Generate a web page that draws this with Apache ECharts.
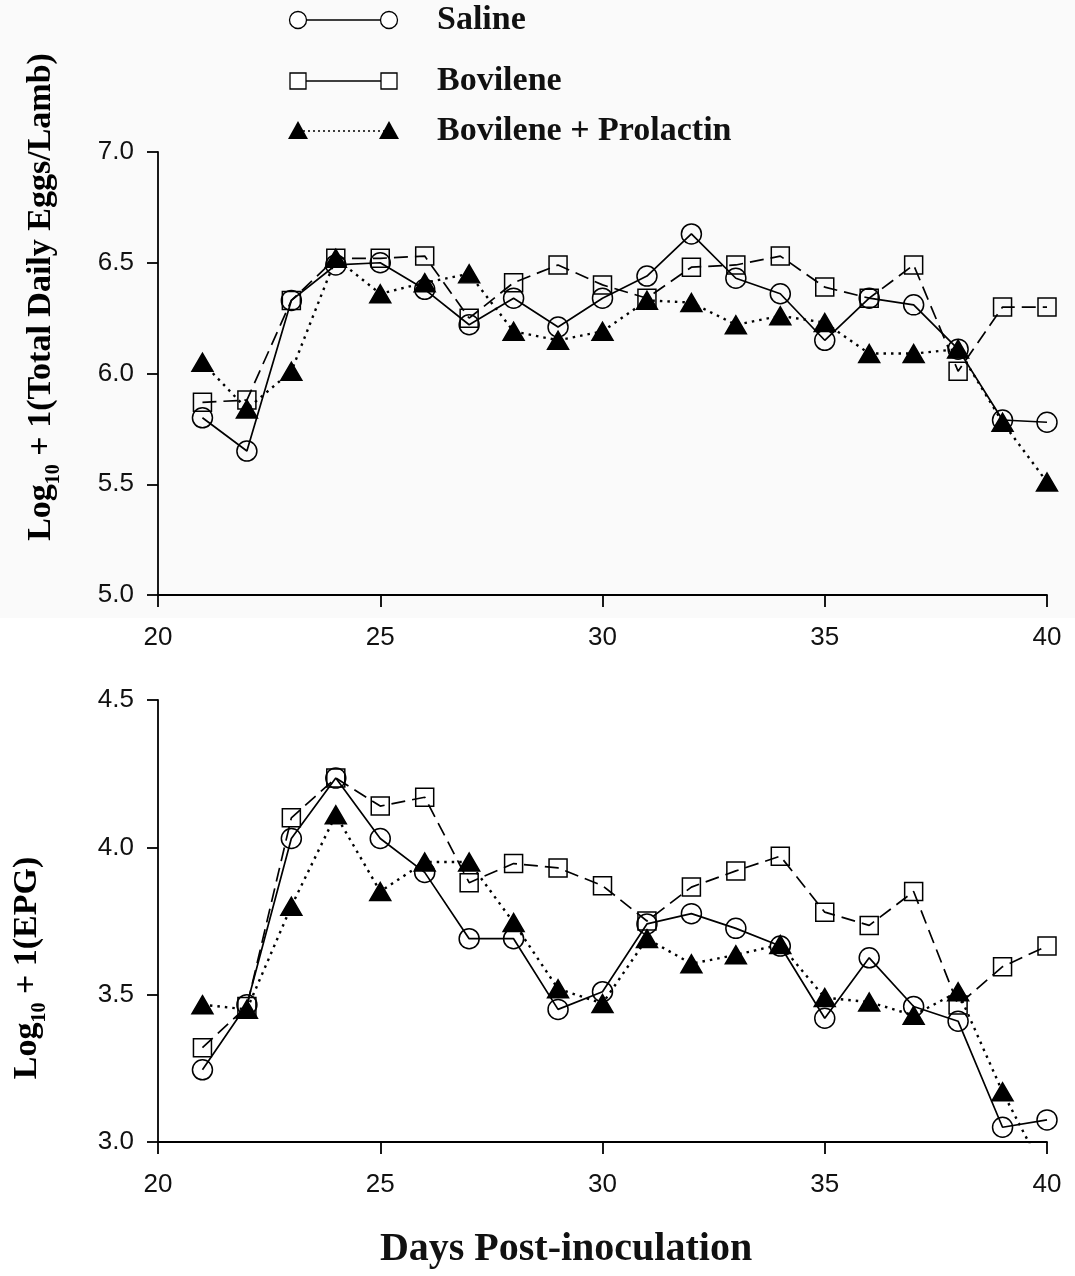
<!DOCTYPE html>
<html>
<head>
<meta charset="utf-8">
<script src="https://cdn.jsdelivr.net/npm/echarts@6/dist/echarts.min.js"></script>
<style>
  html, body {margin: 0; padding: 0; background: #fff;}
  #chart {width: 1075px; height: 1276px;}
</style>
</head>
<body>
<div id="chart"></div>
<script>
// days post-inoculation
const days = [21, 22, 23, 24, 25, 26, 27, 28, 29, 30, 31, 32, 33, 34, 35, 36, 37, 38, 39, 40];

// top panel: log10 + 1 (total daily eggs / lamb)
const salineTotal = [5.80, 5.65, 6.33, 6.49, 6.50, 6.38, 6.22, 6.34, 6.21, 6.34, 6.44, 6.63, 6.43, 6.36, 6.15, 6.34, 6.31, 6.11, 5.79, 5.78];
const bovileneTotal = [5.87, 5.88, 6.33, 6.52, 6.52, 6.53, 6.25, 6.41, 6.49, 6.40, 6.34, 6.48, 6.49, 6.53, 6.39, 6.34, 6.49, 6.01, 6.30, 6.30];
const prolactinTotal = [6.05, 5.84, 6.01, 6.52, 6.36, 6.41, 6.45, 6.19, 6.15, 6.19, 6.33, 6.32, 6.22, 6.26, 6.23, 6.09, 6.09, 6.11, 5.78, 5.51];

// bottom panel: log10 + 1 (EPG)
const salineEpg = [3.245, 3.466, 4.03, 4.235, 4.03, 3.915, 3.69, 3.69, 3.45, 3.51, 3.74, 3.775, 3.725, 3.665, 3.42, 3.625, 3.46, 3.41, 3.05, 3.075];
const bovileneEpg = [3.32, 3.46, 4.10, 4.235, 4.14, 4.17, 3.88, 3.945, 3.93, 3.87, 3.75, 3.865, 3.92, 3.97, 3.78, 3.735, 3.85, 3.465, 3.595, 3.665];
const prolactinEpg = [3.466, 3.45, 3.80, 4.11, 3.85, 3.95, 3.95, 3.745, 3.52, 3.47, 3.69, 3.605, 3.635, 3.67, 3.49, 3.475, 3.43, 3.51, 3.17, 2.88];

// axis ranges / tick labels
const xTicks = [20, 25, 30, 35, 40];
const totalTicks = [5.0, 5.5, 6.0, 6.5, 7.0];
const epgTicks = [3.0, 3.5, 4.0, 4.5];

const legendNames = ['Saline', 'Bovilene', 'Bovilene + Prolactin'];

const SERIF = '"Liberation Serif", "Times New Roman", serif';
const SANS = '"Liberation Sans", Arial, sans-serif';

const chart = echarts.init(document.getElementById('chart'), null, {renderer: 'canvas'});

const pair = (vals) => vals.map((v, i) => [days[i], v]);

const styles = [
  {symbol: 'circle', size: 20, fill: 'rgba(0,0,0,0)', line: 'solid', width: 1.7},
  {symbol: 'rect', size: 18, fill: 'rgba(0,0,0,0)', line: [14, 7], width: 1.7},
  {symbol: 'triangle', size: [21, 18], fill: '#000', line: [2.5, 5], width: 2.4}
];

function makeSeries(idx, vals, panel) {
  const s = styles[idx];
  return {
    name: legendNames[idx],
    type: 'line',
    xAxisIndex: panel,
    yAxisIndex: panel,
    data: pair(vals),
    symbol: s.symbol,
    symbolSize: s.size,
    showAllSymbol: true,
    clip: true,
    itemStyle: {color: s.fill, borderColor: '#000', borderWidth: 1.5},
    lineStyle: {color: '#000', width: s.width, type: s.line, cap: 'butt'},
    emphasis: {disabled: true},
    z: 3 - idx
  };
}

function xAxis(gridIndex) {
  return {
    type: 'value', gridIndex,
    min: xTicks[0], max: xTicks[xTicks.length - 1], interval: 5,
    axisLine: {lineStyle: {color: '#000', width: 1.8}},
    axisTick: {length: 12, lineStyle: {color: '#000', width: 1.8}},
    axisLabel: {color: '#111', fontFamily: SANS, fontSize: 26, margin: 30},
    splitLine: {show: false}
  };
}

function yAxis(gridIndex, ticks) {
  return {
    type: 'value', gridIndex,
    min: ticks[0], max: ticks[ticks.length - 1], interval: 0.5,
    axisLine: {show: true, lineStyle: {color: '#000', width: 1.8}},
    axisTick: {show: true, length: 11, lineStyle: {color: '#000', width: 1.8}},
    axisLabel: {color: '#111', fontFamily: SANS, fontSize: 26, margin: 24,
      formatter: (v) => v.toFixed(1)},
    splitLine: {show: false}
  };
}

// legend drawn as "symbol — symbol   label"
const legendRows = [20, 81, 131];
const legendGraphic = [];
legendRows.forEach((y, i) => {
  const lineDash = i === 2 ? [2, 3] : null;
  legendGraphic.push({type: 'line', shape: {x1: 298, y1: y, x2: 389, y2: y},
    style: {stroke: '#000', lineWidth: i === 2 ? 1.6 : 1.5, lineDash}});
  [298, 389].forEach((cx) => {
    if (i === 0) {
      legendGraphic.push({type: 'circle', shape: {cx, cy: y, r: 8.5},
        style: {fill: '#fff', stroke: '#000', lineWidth: 1.3}});
    } else if (i === 1) {
      legendGraphic.push({type: 'rect', shape: {x: cx - 8, y: y - 8, width: 16, height: 16},
        style: {fill: '#fff', stroke: '#000', lineWidth: 1.3}});
    } else {
      legendGraphic.push({type: 'polygon', shape: {points: [[cx, y - 10], [cx + 10, y + 8], [cx - 10, y + 8]]},
        style: {fill: '#000'}});
    }
  });
  legendGraphic.push({type: 'text', x: 437, y: y,
    style: {text: legendNames[i], font: 'bold 34px ' + SERIF, fill: '#111',
      textAlign: 'left', textVerticalAlign: 'middle'}});
});

const titleRich = {
  n: {fontFamily: SERIF, fontWeight: 'bold', fontSize: 34, lineHeight: 46, verticalAlign: 'middle', color: '#111'},
  s: {fontFamily: SERIF, fontWeight: 'bold', fontSize: 20, lineHeight: 20, verticalAlign: 'bottom', color: '#111'}
};

chart.setOption({
  animation: false,
  backgroundColor: '#fff',
  grid: [
    {left: 158, right: 28, top: 152, height: 443},
    {left: 158, right: 28, top: 700, height: 442}
  ],
  xAxis: [xAxis(0), xAxis(1)],
  yAxis: [yAxis(0, totalTicks), yAxis(1, epgTicks)],
  series: [
    makeSeries(0, salineTotal, 0),
    makeSeries(1, bovileneTotal, 0),
    makeSeries(2, prolactinTotal, 0),
    makeSeries(0, salineEpg, 1),
    makeSeries(1, bovileneEpg, 1),
    makeSeries(2, prolactinEpg, 1)
  ],
  graphic: [
    {type: 'rect', z: -10, silent: true, shape: {x: 0, y: 0, width: 1075, height: 618}, style: {fill: '#fafafa'}},
    ...legendGraphic,
    {type: 'text', x: 41, y: 297, rotation: Math.PI / 2,
      style: {text: '{n|Log}{s|10}{n| + 1(Total Daily Eggs/Lamb)}', rich: titleRich,
        textAlign: 'center', textVerticalAlign: 'middle'}},
    {type: 'text', x: 27, y: 968, rotation: Math.PI / 2,
      style: {text: '{n|Log}{s|10}{n| + 1(EPG)}', rich: titleRich,
        textAlign: 'center', textVerticalAlign: 'middle'}},
    {type: 'text', x: 566, y: 1250,
      style: {text: 'Days Post-inoculation', font: 'bold 40px ' + SERIF, fill: '#111',
        textAlign: 'center', textVerticalAlign: 'middle'}}
  ]
});
</script>
</body>
</html>
